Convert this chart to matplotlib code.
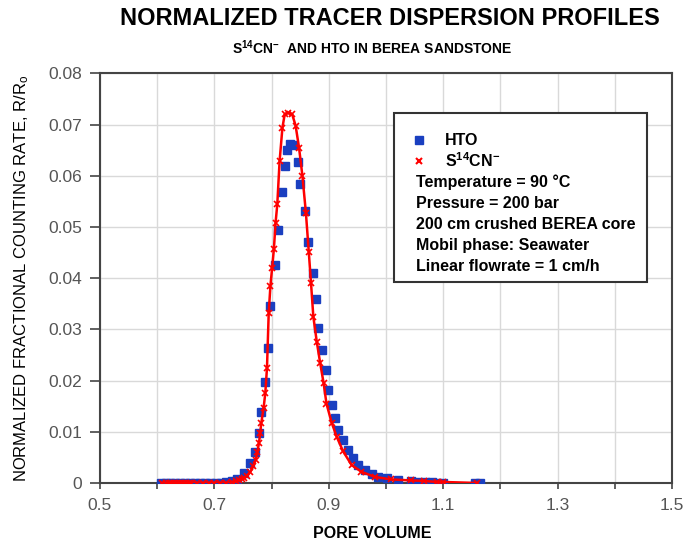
import numpy as np
import matplotlib
matplotlib.use("Agg")
import matplotlib.pyplot as plt
from matplotlib.patches import Rectangle
from matplotlib.ticker import MultipleLocator, FuncFormatter

plt.rcParams['font.family'] = ['Liberation Sans', 'DejaVu Sans']
plt.rcParams['mathtext.default'] = 'regular'

# HTO (blue squares)
hto_pv = [0.607, 0.615, 0.623, 0.632, 0.640, 0.649, 0.657, 0.666, 0.675, 0.684, 0.693,
          0.702, 0.711, 0.720, 0.730, 0.740, 0.752, 0.763, 0.771, 0.778, 0.782, 0.789,
          0.793, 0.798, 0.806, 0.811, 0.818, 0.824, 0.827, 0.833, 0.838, 0.846, 0.850,
          0.858, 0.863, 0.872, 0.877, 0.881, 0.888, 0.895, 0.899, 0.905, 0.911, 0.917,
          0.925, 0.934, 0.943, 0.951, 0.963, 0.975, 0.986, 1.001, 1.021, 1.044, 1.056,
          1.068, 1.080, 1.090, 1.100, 1.155, 1.165]
hto_rate = [0, 0, 0, 0, 0, 0, 0, 0, 0, 0, 0,
            0, 0, 0.0002, 0.0004, 0.0008, 0.0019, 0.0039, 0.0061, 0.0097, 0.0139, 0.0198,
            0.0263, 0.0345, 0.0425, 0.0495, 0.0568, 0.0619, 0.0651, 0.0661, 0.0660, 0.0627, 0.0583,
            0.0531, 0.0470, 0.0411, 0.0359, 0.0303, 0.0260, 0.0221, 0.0182, 0.0153, 0.0127, 0.0104,
            0.0084, 0.0065, 0.0048, 0.0035, 0.0025, 0.0018, 0.0012, 0.0009, 0.0006, 0.0003, 0.0002,
            0.0001, 0.0001, 0, 0, 0, 0]

# S14CN- (red crosses + line)
scn_pv = [0.608, 0.615, 0.620, 0.625, 0.630, 0.635, 0.640, 0.645, 0.650, 0.655, 0.660,
          0.670, 0.680, 0.690, 0.700, 0.710, 0.720, 0.730, 0.737, 0.743, 0.748, 0.752,
          0.757, 0.763, 0.768, 0.772, 0.775, 0.778, 0.780, 0.782, 0.786, 0.789, 0.792,
          0.795, 0.798, 0.801, 0.804, 0.807, 0.810, 0.814, 0.819, 0.823, 0.829, 0.836,
          0.842, 0.848, 0.854, 0.860, 0.865, 0.869, 0.873, 0.879, 0.885, 0.891, 0.896,
          0.905, 0.914, 0.925, 0.940, 0.957, 0.980, 1.009, 1.044, 1.067, 1.090, 1.100, 1.160]
scn_rate = [0, 0, 0, 0, 0, 0, 0, 0, 0, 0, 0,
            0, 0, 0, 0, 0, 0, 0.0001, 0.0003, 0.0006, 0.0008, 0.0009,
            0.0014, 0.0022, 0.0033, 0.0045, 0.0060, 0.0078, 0.0097, 0.0117, 0.0146, 0.0175, 0.0225,
            0.0332, 0.0385, 0.0420, 0.0456, 0.0508, 0.0544, 0.0628, 0.0694, 0.0720, 0.0723, 0.0720,
            0.0698, 0.0655, 0.0599, 0.0528, 0.0452, 0.0390, 0.0325, 0.0276, 0.0234, 0.0195, 0.0155,
            0.0118, 0.0090, 0.0062, 0.0035, 0.0022, 0.0012, 0.0007, 0.0005, 0.0004, 0.0002, 0.0002, 0]

legend_notes = ["Temperature = 90 \u00b0C", "Pressure = 200 bar", "200 cm crushed BEREA core",
                "Mobil phase: Seawater", "Linear flowrate = 1 cm/h"]

blue = '#1a3fc0'
red = '#ff0000'
tick_gray = '#555555'

fig = plt.figure(figsize=(6.88, 5.43), dpi=100)
ax = fig.add_axes([0.1453, 0.1105, 0.8314, 0.7545])

ax.plot(hto_pv, hto_rate, ls='none', marker='s', ms=5.8, color=blue, mec=blue, zorder=3)
ax.plot(scn_pv, scn_rate, ls='-', lw=1.8, marker='x', ms=4, mew=1.2, color=red, zorder=4)

ax.set_xlim(0.5, 1.5)
ax.set_ylim(0, 0.08)
ax.xaxis.set_major_locator(MultipleLocator(0.1))
ax.yaxis.set_major_locator(MultipleLocator(0.01))
ax.xaxis.set_major_formatter(FuncFormatter(lambda v, p: ('%.1f' % v) if int(round(v * 10)) % 2 == 1 else ''))
ax.yaxis.set_major_formatter(FuncFormatter(lambda v, p: '0' if abs(v) < 1e-9 else '%.2f' % v))
ax.grid(True, color='#d9d9d9', lw=1.0, zorder=0)
ax.set_axisbelow(True)
for s in ax.spines.values():
    s.set_color('#444444')
    s.set_linewidth(1.5)
ax.tick_params(axis='y', direction='out', length=7, width=1.2, color='#444444',
               labelsize=12.5, labelcolor=tick_gray, pad=6)
ax.tick_params(axis='x', direction='out', length=4.5, width=1.2, color='#444444',
               labelsize=12.5, labelcolor=tick_gray, pad=6)

ax.set_ylabel('NORMALIZED FRACTIONAL COUNTING RATE, R/R$_o$', fontsize=12, labelpad=12)
ax.set_xlabel('PORE VOLUME', fontsize=11.5, fontweight='bold', labelpad=8)
ax.xaxis.set_label_coords(0.476, -0.105)

fig.text(0.567, 0.966, 'NORMALIZED TRACER DISPERSION PROFILES', ha='center', va='center',
         fontsize=17, fontweight='bold')
fig.text(0.541, 0.913, 'S$^{14}$CN$^{-}$  AND HTO IN BEREA SANDSTONE', ha='center', va='center',
         fontsize=10, fontweight='bold', family=['Liberation Sans Narrow', 'Liberation Sans'])

# legend box
ax.add_patch(Rectangle((0.514, 0.4906), 0.443, 0.4124, transform=ax.transAxes,
                       facecolor='white', edgecolor='#333333', lw=1.5, zorder=5))
row0 = 0.837
step = 0.0513
ax.plot([0.558], [row0], transform=ax.transAxes, marker='s', ms=5.5, color=blue, ls='none', zorder=6,
        clip_on=False)
ax.plot([0.558], [row0 - step], transform=ax.transAxes, marker='x', ms=5, mew=1.5, color=red,
        ls='none', zorder=6, clip_on=False)
ax.text(0.603, row0, 'HTO', transform=ax.transAxes, va='center', fontsize=11.5, fontweight='bold', zorder=6)
ax.text(0.603, row0 - step, 'S$^{14}$CN$^{-}$', transform=ax.transAxes, va='center', fontsize=11.5,
        fontweight='bold', zorder=6)
for i, note in enumerate(legend_notes):
    ax.text(0.552, row0 - (i + 2) * step, note, transform=ax.transAxes, va='center', fontsize=11.5,
            fontweight='bold', zorder=6)

fig.savefig('out.png', dpi=100)
